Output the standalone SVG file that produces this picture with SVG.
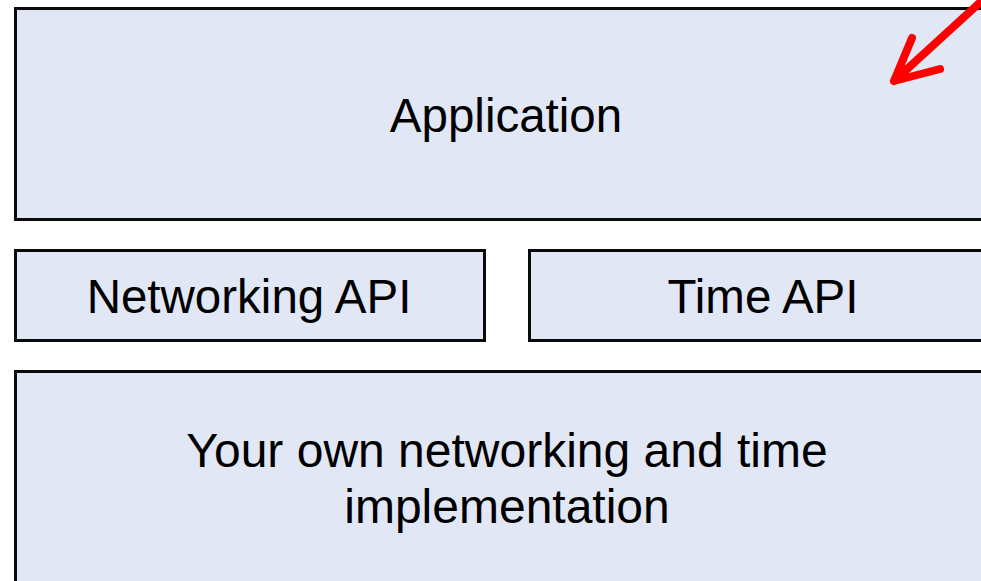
<svg xmlns="http://www.w3.org/2000/svg" width="981" height="581" viewBox="0 0 981 581">
  <style>
    .layer { fill: #E1E7F4; stroke: #0A0A0A; stroke-width: 3; }
    .label { font-family: "Liberation Sans", Arial, sans-serif; font-size: 47.5px; fill: #000; text-anchor: middle; }
    .pointer { fill: none; stroke: #FF0000; stroke-width: 8; stroke-linecap: round; stroke-linejoin: round; }
  </style>
  <rect width="981" height="581" fill="#FFFFFF"/>

  <g id="application">
    <rect class="layer" x="15.5" y="8.5" width="982" height="211"/>
    <text class="label" x="506" y="132">Application</text>
  </g>

  <g id="networking-api">
    <rect class="layer" x="15.5" y="250.5" width="469" height="90"/>
    <text class="label" x="249" y="313">Networking API</text>
  </g>

  <g id="time-api">
    <rect class="layer" x="529.5" y="250.5" width="468" height="90"/>
    <text class="label" x="763" y="313">Time API</text>
  </g>

  <g id="implementation">
    <rect class="layer" x="15.5" y="371.5" width="982" height="220"/>
    <text class="label" x="507" y="467" style="font-size:48px">Your own networking and time</text>
    <text class="label" x="507" y="523" style="font-size:48px">implementation</text>
  </g>

  <g id="connectors">
    <path class="pointer" d="M986,-3 L894,81 M912,38 L894,81 L940,69"/>
  </g>
</svg>
